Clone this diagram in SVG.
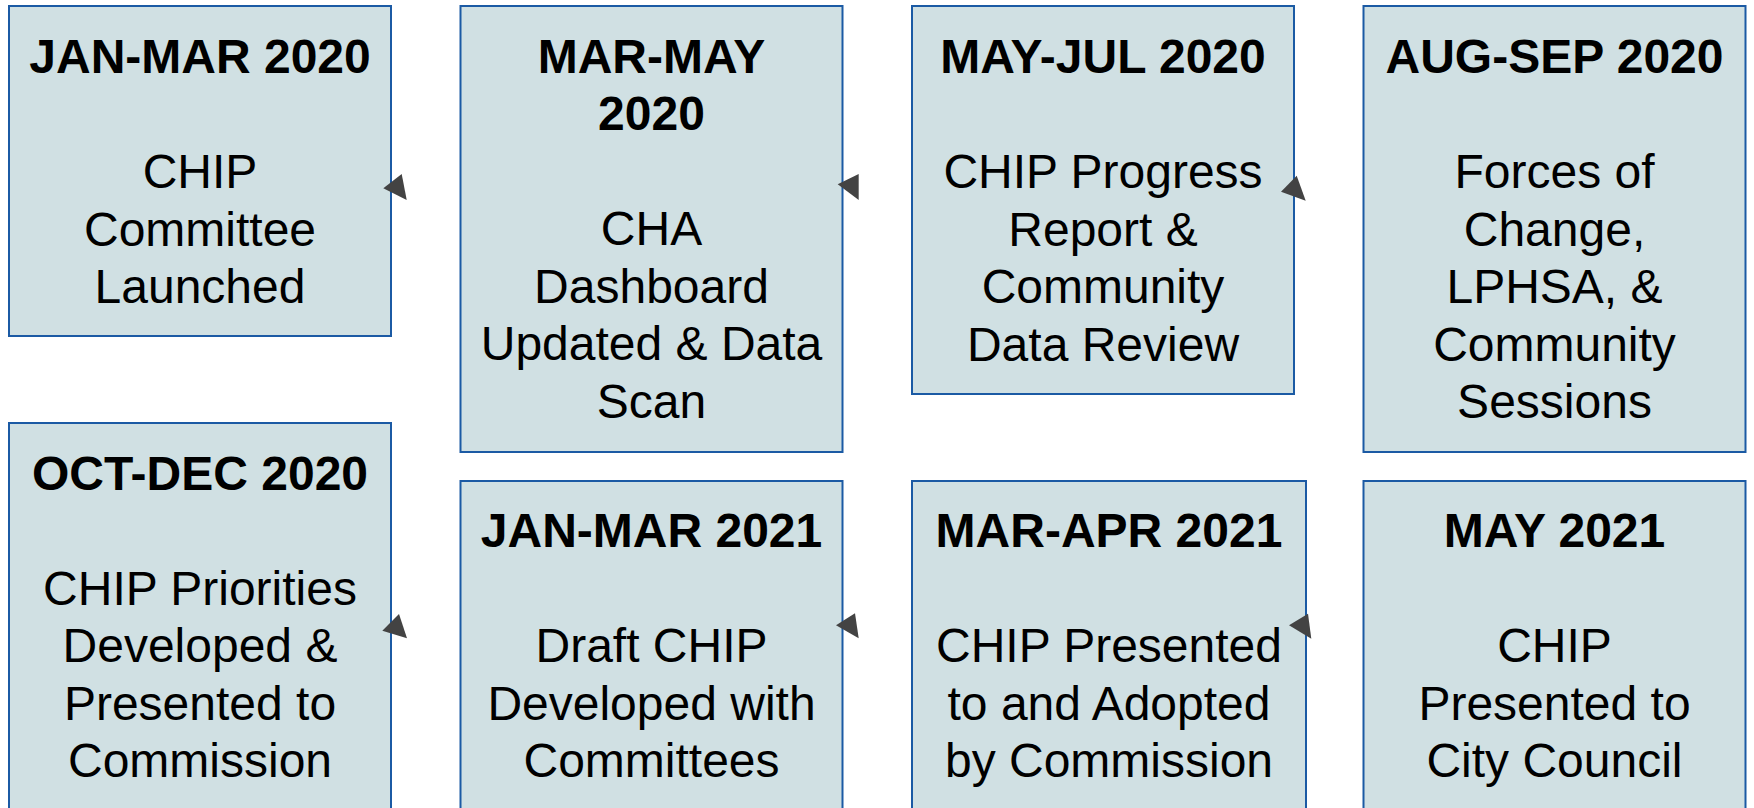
<svg xmlns="http://www.w3.org/2000/svg" width="1754" height="808" viewBox="0 0 1754 808">
<style>
.box{fill:#d0e0e3;stroke:#1b5aa4;stroke-width:2}
text{font-family:"Liberation Sans",Arial,sans-serif;font-size:48px;fill:#000;text-anchor:middle}
.t{font-weight:bold}
.ah{fill:#434343;stroke:none}
</style>
<rect width="1754" height="808" fill="#fff"/>
<g id="n1">
<rect class="box" x="9" y="6" width="382" height="330"/>
<text x="200" y="72.7" class="t">JAN-MAR 2020</text>
<text x="200" y="188.3">CHIP</text>
<text x="200" y="245.8">Committee</text>
<text x="200" y="303.3">Launched</text>
</g>
<g id="n2">
<rect class="box" x="460.5" y="6" width="382" height="446"/>
<text x="651.5" y="72.7" class="t">MAR-MAY</text>
<text x="651.5" y="130.2" class="t">2020</text>
<text x="651.5" y="245.2">CHA</text>
<text x="651.5" y="302.7">Dashboard</text>
<text x="651.5" y="360.2">Updated &amp; Data</text>
<text x="651.5" y="417.7">Scan</text>
</g>
<g id="n3">
<rect class="box" x="912" y="6" width="382" height="388"/>
<text x="1103" y="72.7" class="t">MAY-JUL 2020</text>
<text x="1103" y="188.3">CHIP Progress</text>
<text x="1103" y="245.8">Report &amp;</text>
<text x="1103" y="303.3">Community</text>
<text x="1103" y="360.8">Data Review</text>
</g>
<g id="n4">
<rect class="box" x="1363.5" y="6" width="382" height="446"/>
<text x="1554.5" y="72.7" class="t">AUG-SEP 2020</text>
<text x="1554.5" y="188.3">Forces of</text>
<text x="1554.5" y="245.8">Change,</text>
<text x="1554.5" y="303.3">LPHSA, &amp;</text>
<text x="1554.5" y="360.8">Community</text>
<text x="1554.5" y="418.3">Sessions</text>
</g>
<g id="n5">
<rect class="box" x="9" y="423" width="382" height="392"/>
<text x="200" y="489.7" class="t">OCT-DEC 2020</text>
<text x="200" y="604.7">CHIP Priorities</text>
<text x="200" y="662.2">Developed &amp;</text>
<text x="200" y="719.7">Presented to</text>
<text x="200" y="777.2">Commission</text>
</g>
<g id="n6">
<rect class="box" x="460.5" y="481" width="382" height="334"/>
<text x="651.5" y="547.3" class="t">JAN-MAR 2021</text>
<text x="651.5" y="662.3">Draft CHIP</text>
<text x="651.5" y="719.8">Developed with</text>
<text x="651.5" y="777.3">Committees</text>
</g>
<g id="n7">
<rect class="box" x="912" y="481" width="394" height="334"/>
<text x="1109" y="547.3" class="t">MAR-APR 2021</text>
<text x="1109" y="662.3">CHIP Presented</text>
<text x="1109" y="719.8">to and Adopted</text>
<text x="1109" y="777.3">by Commission</text>
</g>
<g id="n8">
<rect class="box" x="1363.5" y="481" width="382" height="334"/>
<text x="1554.5" y="547.3" class="t">MAY 2021</text>
<text x="1554.5" y="662.3">CHIP</text>
<text x="1554.5" y="719.8">Presented to</text>
<text x="1554.5" y="777.3">City Council</text>
</g>
<g id="connectors">
<polygon class="ah" points="383.3,188.3 401.7,174 406.7,200"/>
<polygon class="ah" points="837.7,184.3 858.7,174 858.7,200"/>
<polygon class="ah" points="1281,191.7 1296.7,175.7 1305.7,200.7"/>
<polygon class="ah" points="382.3,630.7 399,614 407,638.3"/>
<polygon class="ah" points="836,625.3 855,613.3 858.7,638.3"/>
<polygon class="ah" points="1289,625.3 1308,613.7 1311.3,638.7"/>
</g>
</svg>
